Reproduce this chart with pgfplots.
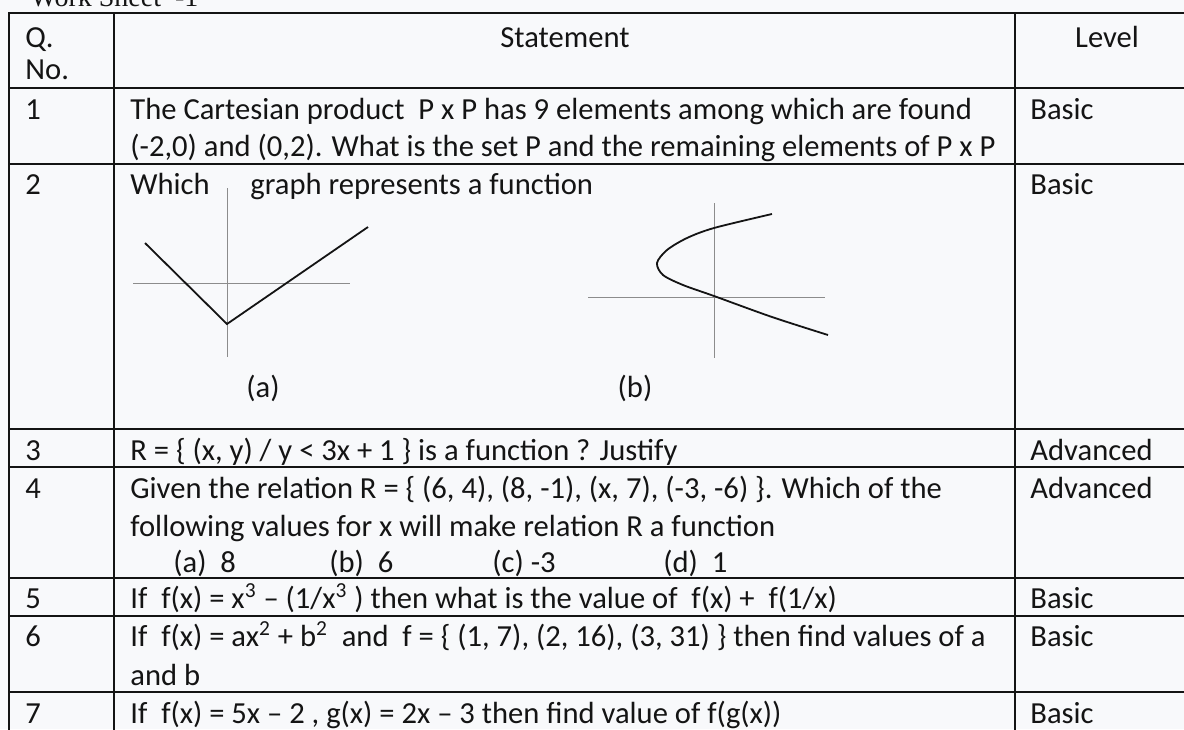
\documentclass[border=0pt]{standalone}
\usepackage{fontspec}
\setmainfont{Carlito}
\newfontfamily\timesfont{Liberation Serif}
\usepackage{pgfplots}
\pgfplotsset{compat=1.18}
\definecolor{ink}{HTML}{141414}
\definecolor{paper}{HTML}{F8F9FB}
\definecolor{axisgray}{HTML}{8C8C8C}

\begin{document}
\begin{tikzpicture}[every node/.style={font=\fontsize{15.3}{18}\selectfont, text=ink, inner sep=0pt}]
\begin{axis}[
  width=592pt, height=364.5pt, scale only axis,
  xmin=0, xmax=1184, ymin=0, ymax=729, y dir=reverse,
  hide axis, clip=false,
  rule/.style={ink, line width=1.3pt, line cap=rect},
  ax/.style={axisgray, line width=0.45pt},
  curve/.style={ink, line width=0.9pt},
]
\fill[paper] (axis cs:0,0) rectangle (axis cs:1184,729);

% table rules
\addplot[rule] coordinates {(9,13) (1184,13)};
\addplot[rule] coordinates {(9,88) (1184,88)};
\addplot[rule] coordinates {(9,164) (1184,164)};
\addplot[rule] coordinates {(9,429) (1184,429)};
\addplot[rule] coordinates {(9,467) (1184,467)};
\addplot[rule] coordinates {(9,578) (1184,578)};
\addplot[rule] coordinates {(9,616) (1184,616)};
\addplot[rule] coordinates {(9,692) (1184,692)};
\addplot[rule] coordinates {(9,13) (9,729)};
\addplot[rule] coordinates {(114,13) (114,729)};
\addplot[rule] coordinates {(1015,13) (1015,729)};

% graph (a)
\addplot[ax] coordinates {(133,283) (350,283)};
\addplot[ax] coordinates {(227,188) (227,357)};
\addplot[curve] coordinates {(145,243) (227,324) (368,227)};

% graph (b)
\addplot[ax] coordinates {(588,297) (825,297)};
\addplot[ax] coordinates {(714,203) (714,358)};
\addplot[curve, smooth] coordinates {
  (772,214) (714,228) (687,238) (667,250) (657,263)
  (663,275) (683,285) (714,296) (772,317) (828,335)};

% title, cut by the page edge
\node[anchor=base west, font=\timesfont\fontsize{14}{17}\selectfont] at (axis cs:30,6) {Work Sheet \ -1};

% header
\node[anchor=base west] at (axis cs:25,47) {Q.};
\node[anchor=base west] at (axis cs:25,79) {No.};
\node[anchor=base] at (axis cs:565,47) {Statement};
\node[anchor=base] at (axis cs:1107,47) {Level};

% row 1
\node[anchor=base west] at (axis cs:25,119) {1};
\node[anchor=base west] at (axis cs:130,119) {The Cartesian product \ P x P has 9 elements among which are found};
\node[anchor=base west] at (axis cs:130,156) {(-2,0) and (0,2). What is the set P and the remaining elements of P x P};
\node[anchor=base west] at (axis cs:1030,119) {Basic};

% row 2
\node[anchor=base west] at (axis cs:25,194) {2};
\node[anchor=base west] at (axis cs:130,194) {Which};
\node[anchor=base west] at (axis cs:250,194) {graph represents a function};
\node[anchor=base west] at (axis cs:1030,194) {Basic};
\node[anchor=base] at (axis cs:263,397) {(a)};
\node[anchor=base] at (axis cs:635,397) {(b)};

% row 3
\node[anchor=base west] at (axis cs:25,460) {3};
\node[anchor=base west] at (axis cs:130,460) {R = \{ (x, y) / y < 3x + 1 \} is a function ? Justify};
\node[anchor=base west] at (axis cs:1030,460) {Advanced};

% row 4
\node[anchor=base west] at (axis cs:25,498) {4};
\node[anchor=base west] at (axis cs:130,498) {Given the relation R = \{ (6, 4), (8, -1), (x, 7), (-3, -6) \}. Which of the};
\node[anchor=base west] at (axis cs:130,536) {following values for x will make relation R a function};
\node[anchor=base west] at (axis cs:173,572) {(a) \ 8};
\node[anchor=base west] at (axis cs:329,572) {(b) \ 6};
\node[anchor=base west] at (axis cs:492,572) {(c) -3};
\node[anchor=base west] at (axis cs:663,572) {(d) \ 1};
\node[anchor=base west] at (axis cs:1030,498) {Advanced};

% row 5
\node[anchor=base west] at (axis cs:25,608) {5};
\node[anchor=base west] at (axis cs:130,608) {If \ f(x) = x\textsuperscript{3} \textendash{} (1/x\textsuperscript{3} ) then what is the value of \ f(x) + \ f(1/x)};
\node[anchor=base west] at (axis cs:1030,608) {Basic};

% row 6
\node[anchor=base west] at (axis cs:25,646) {6};
\node[anchor=base west] at (axis cs:130,646) {If \ f(x) = ax\textsuperscript{2} + b\textsuperscript{2} \ and \ f = \{ (1, 7), (2, 16), (3, 31) \} then find values of a};
\node[anchor=base west] at (axis cs:130,685) {and b};
\node[anchor=base west] at (axis cs:1030,646) {Basic};

% row 7
\node[anchor=base west] at (axis cs:25,723) {7};
\node[anchor=base west] at (axis cs:130,723) {If \ f(x) = 5x \textendash{} 2 , g(x) = 2x \textendash{} 3 then find value of f(g(x))};
\node[anchor=base west] at (axis cs:1030,723) {Basic};
\end{axis}
\pgfresetboundingbox
\useasboundingbox (0,0) rectangle (592pt,364.5pt);
\end{tikzpicture}
\end{document}
